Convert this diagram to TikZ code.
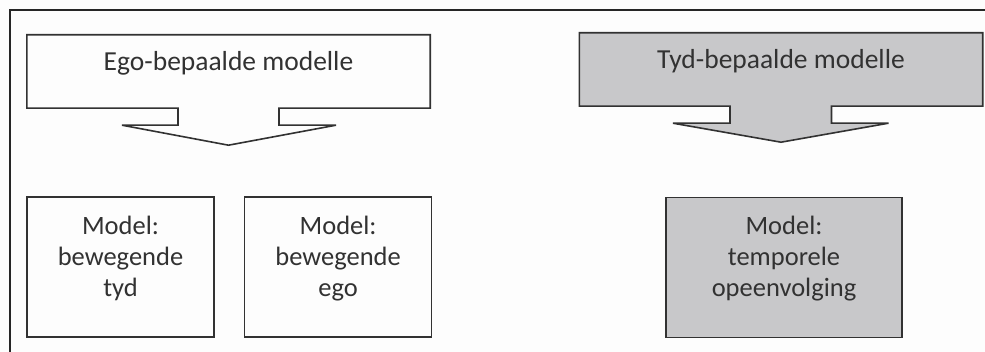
\documentclass[tikz,border=0pt]{standalone}
\usepackage{fontspec}
\setmainfont{Carlito}
\usepackage{tikz}
\usetikzlibrary{positioning,calc,backgrounds}
\usepackage{xcolor}

\definecolor{inkgray}{RGB}{50,50,50}
\definecolor{hdrgray}{RGB}{200,200,202}
\definecolor{paper}{RGB}{253,253,253}

\begin{document}
\begin{tikzpicture}[
        x=1pt,
        y=-1pt,
        headbox/.style={
            rectangle,
            align=center,
            minimum width=403pt,
            minimum height=73pt,
            inner sep=0pt,
            text depth=22pt,
            text=inkgray,
            font=\fontsize{27.5}{33}\selectfont
        },
        modelbox/.style={
            rectangle,
            draw=inkgray,
            line width=1.6pt,
            align=center,
            minimum height=140pt,
            inner sep=0pt,
            text depth=22pt,
            text=inkgray,
            font=\fontsize{26.5}{31}\selectfont
        },
        callout/.style={draw=inkgray, line width=1.6pt, line join=miter}
    ]

    \useasboundingbox (0,0) rectangle (985,352);

    % LEFT: EGO-DETERMINED MODELS
    \node[headbox] (egohead) at (228.5,71.5) {Ego-bepaalde modelle};
    \node[modelbox, minimum width=187pt] (movetime) at (120.5,267) {Model:\\bewegende\\tyd};
    \node[modelbox, minimum width=187pt, right=29pt of movetime] (moveego) {Model:\\bewegende\\ego};

    % RIGHT: TIME-DETERMINED MODELS
    \node[headbox] (tydhead) at (781,69.5) {Tyd-bepaalde modelle};
    \node[modelbox, fill=hdrgray, minimum width=236pt] (sequence) at (784,267.5) {Model:\\temporele\\opeenvolging};

    % ============================================================
    % BACKGROUND, FRAME AND CALLOUT OUTLINES
    % ============================================================
    \begin{scope}[on background layer]
    \fill[paper] (0,0) rectangle (985,352);
    \draw[line width=2.6pt, black!85] (10,352) -- (10,10) -- (985,10);
    \draw[callout, fill=paper] (egohead.north west) -- (egohead.north east) -- (egohead.south east)
        -- ($(egohead.south)+(50.5,0)$) -- ++(0,17) -- ++(57,0)
        -- ($(egohead.south)+(0,37)$)
        -- ($(egohead.south)+(-106.5,17)$) -- ++(56,0) -- ++(0,-17)
        -- (egohead.south west) -- cycle;
    \draw[callout, fill=hdrgray] (tydhead.north west) -- (tydhead.north east) -- (tydhead.south east)
        -- ($(tydhead.south)+(50.5,0)$) -- ++(0,17) -- ++(57,0)
        -- ($(tydhead.south)+(0,36)$)
        -- ($(tydhead.south)+(-108,17)$) -- ++(57,0) -- ++(0,-17)
        -- (tydhead.south west) -- cycle;
    \end{scope}

\end{tikzpicture}
\end{document}
